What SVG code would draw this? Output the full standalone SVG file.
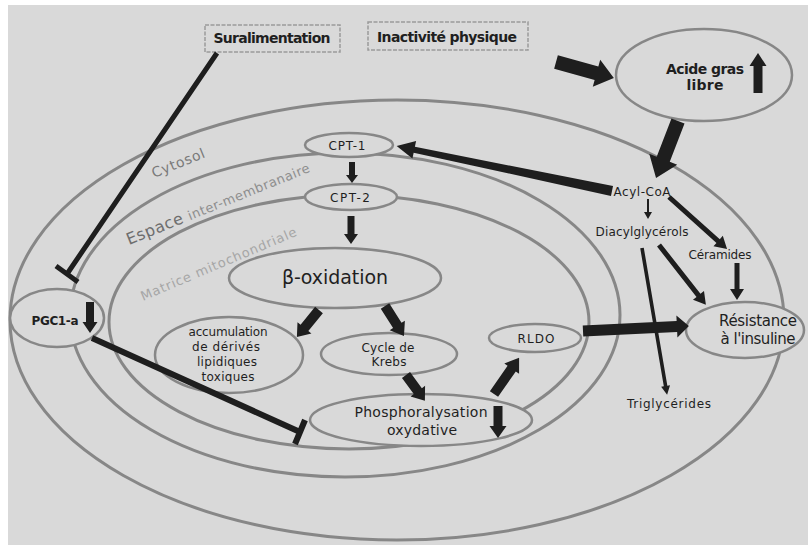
<svg xmlns="http://www.w3.org/2000/svg" width="808" height="545" viewBox="0 0 808 545">
<defs>
<style>
.ring{fill:none;stroke:#878787;stroke-width:3}
.node{fill:#d9d9d9;stroke:#878787;stroke-width:2.5}
.box{fill:#d9d9d9;stroke:#9a9a9a;stroke-width:1.5;stroke-dasharray:4 1.5}
.t{font-family:"DejaVu Sans",sans-serif;fill:#1f1f1f;text-anchor:middle}
.b{font-weight:bold}
.lab{font-family:"DejaVu Sans",sans-serif;fill:#7a7a7a}
.blk{fill:#1e1e1e}
.inh{stroke:#1e1e1e;fill:none;stroke-linecap:butt}
</style>
</defs>
<rect x="0" y="0" width="808" height="545" fill="#ffffff"/>
<rect x="8" y="5" width="800" height="540" fill="#d9d9d9"/>

<g id="compartments">
<ellipse class="ring" cx="397" cy="320" rx="387" ry="220"/>
<ellipse class="ring" cx="345" cy="315" rx="275" ry="162"/>
<ellipse class="ring" cx="349" cy="322" rx="240" ry="127"/>
</g>

<g id="node-suralimentation">
<rect class="box" x="205" y="25" width="135" height="27"/>
<text class="t b" x="272" y="43" font-size="14" textLength="117">Suralimentation</text>
</g>
<g id="node-inactivite">
<rect class="box" x="368" y="22" width="160" height="28"/>
<text class="t b" x="447" y="42" font-size="14" textLength="140">Inactivité physique</text>
</g>
<g id="node-acide-gras">
<ellipse class="node" cx="704" cy="75" rx="88" ry="46"/>
<text class="t b" x="705" y="74" font-size="14" textLength="78">Acide gras</text>
<text class="t b" x="705" y="90" font-size="14" textLength="37">libre</text>
<path class="blk" d="M0,-4.5H27V-8.5L40,0L27,8.5V4.5H0Z" transform="translate(758 93) rotate(-90)"/>
</g>
<g id="node-cpt1">
<ellipse class="node" cx="349" cy="145" rx="44" ry="12"/>
<text class="t" x="347" y="150" font-size="12" textLength="37">CPT-1</text>
</g>
<g id="node-cpt2">
<ellipse class="node" cx="351" cy="197" rx="46" ry="13"/>
<text class="t" x="350" y="202" font-size="12" textLength="40">CPT-2</text>
</g>
<g id="node-beta-oxidation">
<ellipse class="node" cx="335" cy="278" rx="106" ry="30"/>
<text class="t" x="335" y="284" font-size="19" textLength="106">β-oxidation</text>
</g>
<g id="node-accumulation">
<ellipse class="node" cx="229" cy="355" rx="74" ry="38"/>
<text class="t" x="228" y="336" font-size="12" textLength="79">accumulation</text>
<text class="t" x="226" y="351" font-size="12" textLength="68">de dérivés</text>
<text class="t" x="227" y="366" font-size="12" textLength="60">lipidiques</text>
<text class="t" x="228" y="381" font-size="12" textLength="53">toxiques</text>
</g>
<g id="node-krebs">
<ellipse class="node" cx="389" cy="354" rx="68" ry="21"/>
<text class="t" x="388" y="352" font-size="12" textLength="53">Cycle de</text>
<text class="t" x="389" y="366" font-size="12" textLength="35">Krebs</text>
</g>
<g id="node-rldo">
<ellipse class="node" cx="535" cy="338" rx="46" ry="14"/>
<text class="t" x="536" y="343" font-size="12" textLength="37">RLDO</text>
</g>
<g id="node-phosphorylation">
<ellipse class="node" cx="421" cy="420" rx="111" ry="26"/>
<text class="t" x="421" y="417" font-size="14" textLength="133">Phosphoralysation</text>
<text class="t" x="422" y="435" font-size="14" textLength="70">oxydative</text>
<path class="blk" d="M0,-4.5H20V-8.5L32,0L20,8.5V4.5H0Z" transform="translate(498 406) rotate(90)"/>
</g>
<g id="node-pgc1a">
<ellipse class="node" cx="57" cy="318" rx="47" ry="29"/>
<text class="t b" x="55" y="325" font-size="12" textLength="47">PGC1-a</text>
<path class="blk" d="M0,-4H20V-7.5L31,0L20,7.5V4H0Z" transform="translate(90 302) rotate(90)"/>
</g>
<g id="node-resistance">
<ellipse class="node" cx="745" cy="330" rx="59" ry="28"/>
<text class="t" x="758" y="326" font-size="15" textLength="78">Résistance</text>
<text class="t" x="758" y="344" font-size="15" textLength="75">à l'insuline</text>
</g>
<g id="node-acyl-coa">
<text class="t" x="642" y="196" font-size="12" textLength="57">Acyl-CoA</text>
</g>
<g id="node-diacylglycerols">
<text class="t" x="642" y="236" font-size="12" textLength="93">Diacylglycérols</text>
</g>
<g id="node-ceramides">
<text class="t" x="720" y="259" font-size="12" textLength="63">Céramides</text>
</g>
<g id="node-triglycerides">
<text class="t" x="669" y="408" font-size="12" textLength="84">Triglycérides</text>
</g>

<g id="compartment-labels">
<text class="lab" x="178" y="168" font-size="14" text-anchor="middle" textLength="56" transform="rotate(-22 178 163)">Cytosol</text>
<text class="lab" x="129" y="245" textLength="196" transform="rotate(-22 129 245)"><tspan font-size="16" fill="#6e6e6e">Espace </tspan><tspan font-size="13" fill="#8e8e8e">inter-membranaire</tspan></text>
<text class="lab" x="143" y="301" font-size="13" textLength="168" transform="rotate(-23 143 301)" style="fill:#a6a6a6">Matrice mitochondriale</text>
</g>

<g id="connectors">
<path class="blk" d="M0,-7H42V-14L60,0L42,14V7H0Z" transform="translate(556 62) rotate(15.4)"/>
<path class="blk" d="M0,-7H41V-15L61,0L41,15V7H0Z" transform="translate(678 121) rotate(111.1)"/>
<path class="blk" d="M0,-5L202,-3V-9L220,0L202,9V3L0,5Z" transform="translate(612 191) rotate(191.8)"/>
<path class="blk" d="M0,-1H13V-4L20,0L13,4V1H0Z" transform="translate(648 199) rotate(90)"/>
<path class="blk" d="M0,-2.5H66V-7L78,0L66,7V2.5H0Z" transform="translate(669 197) rotate(41.9)"/>
<path class="blk" d="M0,-2.5H26V-7L37,0L26,7V2.5H0Z" transform="translate(737 263) rotate(90)"/>
<path class="blk" d="M0,-2.5H64V-7L76,0L64,7V2.5H0Z" transform="translate(659 245) rotate(51.9)"/>
<path class="blk" d="M0,-1.8H140V-4.5L149,0L140,4.5V1.8H0Z" transform="translate(642 248) rotate(80.3)"/>
<path class="blk" d="M0,-5.5H94V-11L106,0L94,11V5.5H0Z" transform="translate(583 331) rotate(-2.7)"/>
<path class="blk" d="M0,-5H31V-9L44,0L31,9V5H0Z" transform="translate(494 394) rotate(-55.2)"/>
<path class="blk" d="M0,-5H20V-9L32,0L20,9V5H0Z" transform="translate(406 375) rotate(53.8)"/>
<path class="blk" d="M0,-5H23V-9L35.5,0L23,9V5H0Z" transform="translate(385 306) rotate(57.7)"/>
<path class="blk" d="M0,-5H23V-9L35,0L23,9V5H0Z" transform="translate(319 310) rotate(129.2)"/>
<path class="blk" d="M0,-3.5H18V-7L28,0L18,7V3.5H0Z" transform="translate(351 216) rotate(90)"/>
<path class="blk" d="M0,-3H13V-6L21,0L13,6V3H0Z" transform="translate(352 162) rotate(90)"/>
<path class="inh" stroke-width="5" d="M217,53L67,274M56,266L78,282"/>
<path class="inh" stroke-width="6" d="M92,338L300,432M305,420L295,444"/>
</g>
</svg>
